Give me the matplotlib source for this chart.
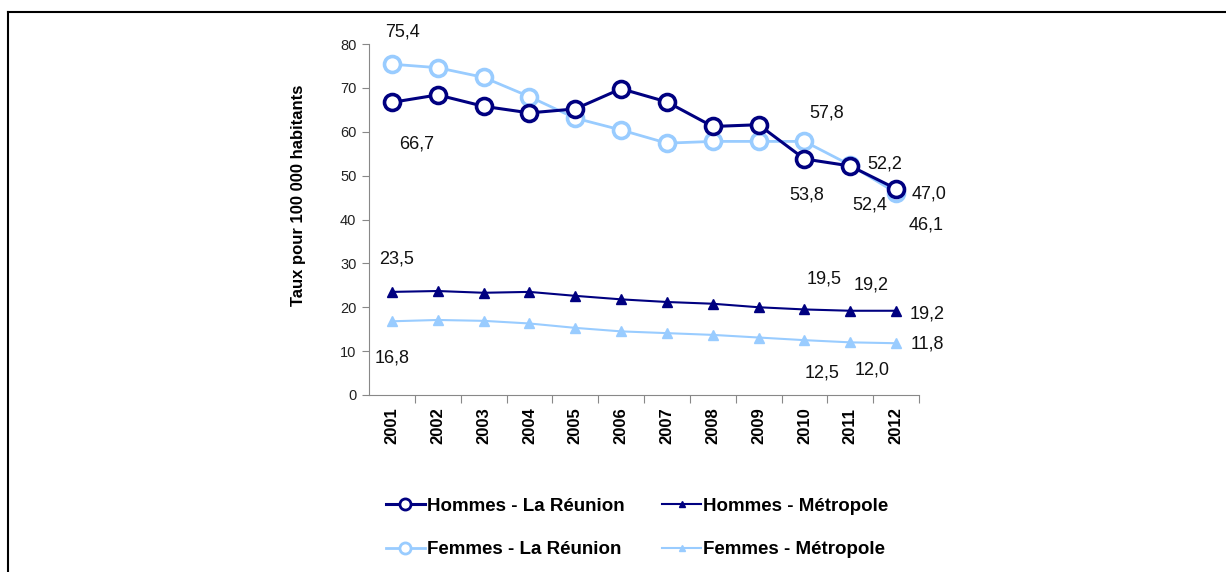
import matplotlib
matplotlib.use("Agg")
import matplotlib.pyplot as plt
from matplotlib.lines import Line2D

years = ["2001", "2002", "2003", "2004", "2005", "2006",
         "2007", "2008", "2009", "2010", "2011", "2012"]
hommes_reunion = [66.7, 68.4, 65.8, 64.3, 65.2, 69.8, 66.8, 61.2, 61.6, 53.8, 52.2, 47.0]
femmes_reunion = [75.4, 74.6, 72.4, 68.0, 63.1, 60.4, 57.4, 57.8, 57.8, 57.8, 52.4, 46.1]
hommes_metro = [23.5, 23.7, 23.3, 23.5, 22.6, 21.8, 21.2, 20.8, 20.0, 19.5, 19.2, 19.2]
femmes_metro = [16.8, 17.1, 16.9, 16.3, 15.3, 14.5, 14.1, 13.7, 13.1, 12.5, 12.0, 11.8]

# (serie, index, dx px, dy px)  dy positive = up
annotations = [
    (femmes_reunion, 0, 11, 32),
    (hommes_reunion, 0, 25, -42),
    (femmes_reunion, 9, 22, 28),
    (hommes_reunion, 9, 2, -36),
    (hommes_reunion, 10, 34, 2),
    (femmes_reunion, 10, 19, -40),
    (hommes_reunion, 11, 33, -5),
    (femmes_reunion, 11, 30, -32),
    (hommes_metro, 0, 5, 33),
    (femmes_metro, 0, 0, -37),
    (hommes_metro, 9, 20, 30),
    (hommes_metro, 10, 21, 26),
    (hommes_metro, 11, 31, -3),
    (femmes_metro, 9, 18, -33),
    (femmes_metro, 10, 22, -28),
    (femmes_metro, 11, 31, -1),
]

NAVY = "#000080"
LIGHT = "#99CCFF"
plt.rcParams["font.family"] = ["Liberation Sans", "DejaVu Sans"]

fig = plt.figure(figsize=(12.26, 5.72), dpi=100)
ax = fig.add_axes([369 / 1226, 1 - 395 / 572, 550 / 1226, 351 / 572])

x = list(range(len(years)))
ax.plot(x, hommes_metro, color=NAVY, lw=1.5, marker="^", ms=7,
        mfc=NAVY, mec=NAVY, zorder=3)
ax.plot(x, femmes_metro, color=LIGHT, lw=1.5, marker="^", ms=7,
        mfc=LIGHT, mec=LIGHT, zorder=3)
ax.plot(x, femmes_reunion, color=LIGHT, lw=2, marker="o", ms=11.5,
        mfc="white", mec=LIGHT, mew=2.6, zorder=4)
ax.plot(x, hommes_reunion, color=NAVY, lw=2.2, marker="o", ms=11.5,
        mfc="white", mec=NAVY, mew=2.6, zorder=5)

for serie, i, dx, dy in annotations:
    ax.annotate(f"{serie[i]:.1f}".replace(".", ","), (x[i], serie[i]),
                xytext=(dx * 0.72, dy * 0.72), textcoords="offset points",
                ha="center", va="center", fontsize=13, color="#111111")

ax.set_xlim(-0.5, len(years) - 0.5)
ax.set_ylim(0, 80)
ax.set_yticks(range(0, 81, 10))
ax.tick_params(axis="y", direction="out", length=5, color="#888888",
               labelsize=10.5, labelcolor="#222222", pad=4)
ax.set_xticks([i + 0.5 for i in x])
ax.set_xticklabels([])
ax.set_xticks(x, minor=True)
ax.set_xticklabels(years, minor=True, rotation=90, fontsize=12,
                   fontweight="bold")
ax.tick_params(axis="x", which="major", direction="out", length=6,
               color="#888888")
ax.tick_params(axis="x", which="minor", length=0, pad=9)
for s in ["top", "right"]:
    ax.spines[s].set_visible(False)
for s in ["left", "bottom"]:
    ax.spines[s].set_color("#888888")
ax.set_ylabel("Taux pour 100 000 habitants", fontsize=12, fontweight="bold")
ax.yaxis.set_label_coords(-0.115, 0.57)

handles = [
    Line2D([], [], color=NAVY, lw=2.2, marker="o", ms=8, mfc="white", mec=NAVY, mew=2),
    Line2D([], [], color=LIGHT, lw=2, marker="o", ms=8, mfc="white", mec=LIGHT, mew=2),
    Line2D([], [], color=NAVY, lw=1.5, marker="^", ms=5, mfc=NAVY, mec=NAVY),
    Line2D([], [], color=LIGHT, lw=1.5, marker="^", ms=5, mfc=LIGHT, mec=LIGHT),
]
labels = ["Hommes - La Réunion", "Femmes - La Réunion",
          "Hommes - Métropole", "Femmes - Métropole"]
fig.legend(handles, labels, ncol=2, loc="center",
           bbox_to_anchor=(637 / 1226, 1 - 528 / 572),
           frameon=False, prop={"size": 13.5, "weight": "bold"},
           handlelength=2.1, handletextpad=0.1, labelspacing=1.4,
           columnspacing=2.0)

# cadre
fig.add_artist(Line2D([8 / 1226, 1], [1 - 12 / 572] * 2, color="black", lw=1.5,
                      transform=fig.transFigure))
fig.add_artist(Line2D([8 / 1226] * 2, [0, 1 - 12 / 572], color="black", lw=1.5,
                      transform=fig.transFigure))

fig.savefig("out.png", dpi=100)
